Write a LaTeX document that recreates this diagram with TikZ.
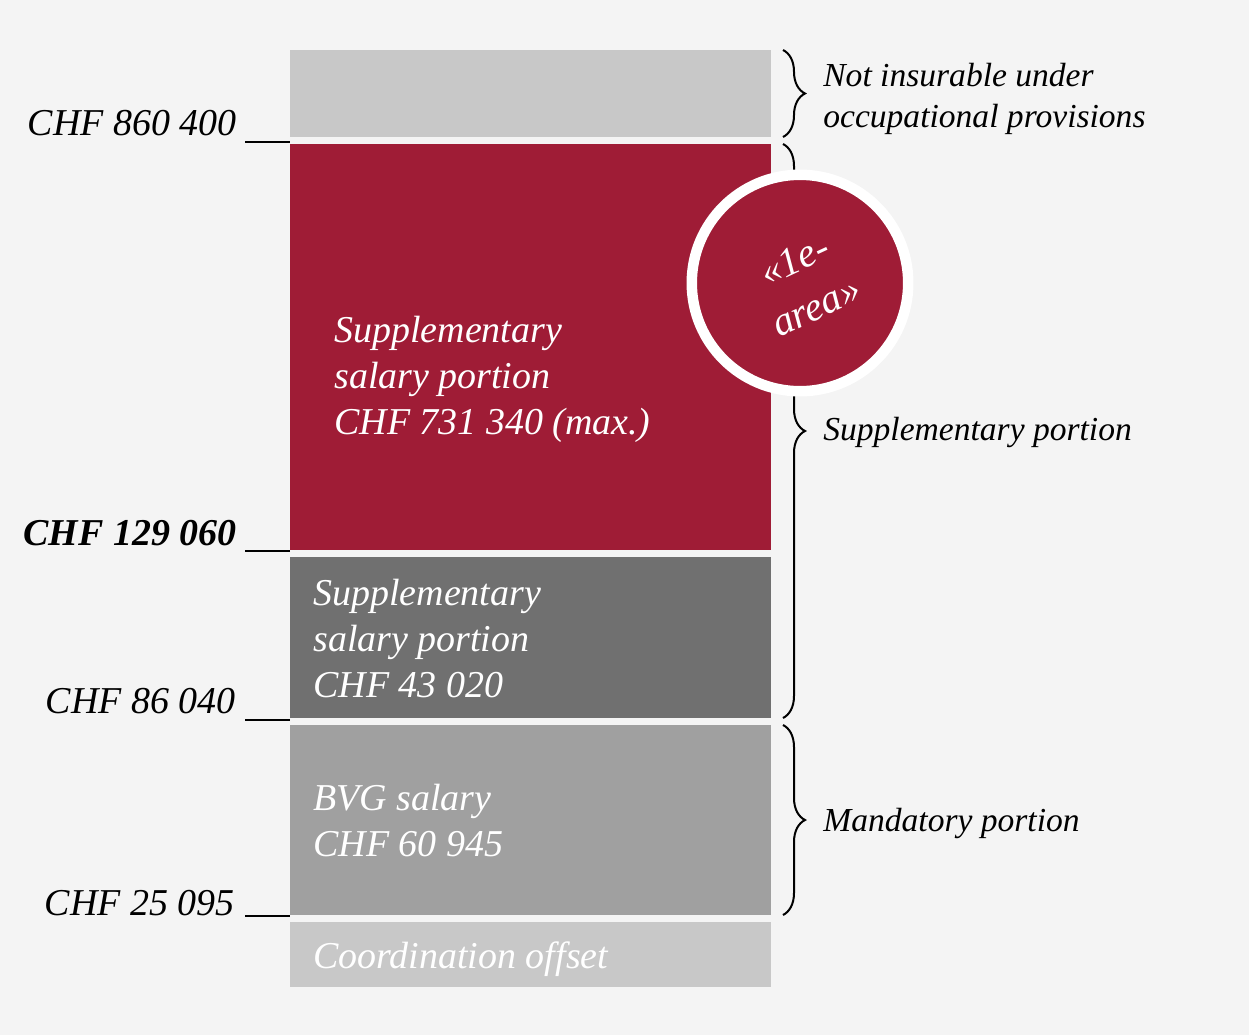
\documentclass[tikz,border=0pt]{standalone}
\usepackage{fontspec}
\setmainfont{Liberation Serif}
\usetikzlibrary{decorations.pathreplacing,positioning}
\definecolor{bgcol}{HTML}{F4F4F4}
\definecolor{lightgrey}{HTML}{C8C8C8}
\definecolor{wine}{HTML}{9F1C36}
\definecolor{darkgrey}{HTML}{707070}
\definecolor{midgrey}{HTML}{A0A0A0}

\begin{document}
\begin{tikzpicture}[x=0.02cm,y=-0.02cm,
  amount/.style={anchor=base east,inner sep=0pt,font=\fontsize{21.6}{26}\selectfont\itshape},
  blocktext/.style={anchor=base west,inner sep=0pt,align=left,text=white,font=\fontsize{21.6}{25.9}\selectfont\itshape},
  sidetext/.style={anchor=base west,inner sep=0pt,align=left,font=\fontsize{19.1}{23.3}\selectfont\itshape},
  tick/.style={line width=0.04cm},
  bracket/.style={decorate,decoration={brace,amplitude=0.44cm},line width=0.04cm}]
  \fill[bgcol] (0,0) rectangle (1249,1035);
  \useasboundingbox (0,0) rectangle (1249,1035);
  \fill[lightgrey] (290,50) rectangle (771,137);
  \fill[wine] (290,144) rectangle (771,550);
  \fill[darkgrey] (290,557) rectangle (771,718);
  \fill[midgrey] (290,725) rectangle (771,915);
  \fill[lightgrey] (290,922) rectangle (771,987);
  \node[blocktext] (suppl) at (334,434) {Supplementary\\salary portion\\CHF 731 340 (max.)};
  \node[blocktext] (supplb) at (313,697) {Supplementary\\salary portion\\CHF 43 020};
  \node[blocktext] (bvg) at (313,856) {BVG salary\\CHF 60 945};
  \node[blocktext] (coord) at (313,968) {Coordination offset};
  \node[amount] (a1) at (237,135) {CHF 860 400};
  \node[amount,font=\fontsize{21.6}{26}\selectfont\itshape\bfseries] (a2) at (237,545) {CHF 129 060};
  \node[amount] (a3) at (236,713) {CHF 86 040};
  \node[amount] (a4) at (235,915) {CHF 25 095};
  \draw[tick] (245,142) -- (290,142);
  \draw[tick] (245,551) -- (290,551);
  \draw[tick] (245,720) -- (290,720);
  \draw[tick] (245,916) -- (290,916);
  \draw[bracket] (783,50) -- (783,137);
  \draw[bracket] (783,144) -- (783,718);
  \draw[bracket] (783,725) -- (783,915);
  \node[sidetext] (notins) at (823,127) {Not insurable under\\occupational provisions};
  \node[sidetext] (support) at (823,440) {Supplementary portion};
  \node[sidetext] (mandport) at (823,831) {Mandatory portion};
  \node[circle,fill=wine,draw=white,line width=0.21cm,minimum size=4.33cm,inner sep=0pt] (area) at (800,283) {};
  \node[align=center,rotate=25,text=white,font=\fontsize{23}{29}\selectfont\itshape] (areatxt) at (805,283) {«1e-\\area»};
\end{tikzpicture}
\end{document}
